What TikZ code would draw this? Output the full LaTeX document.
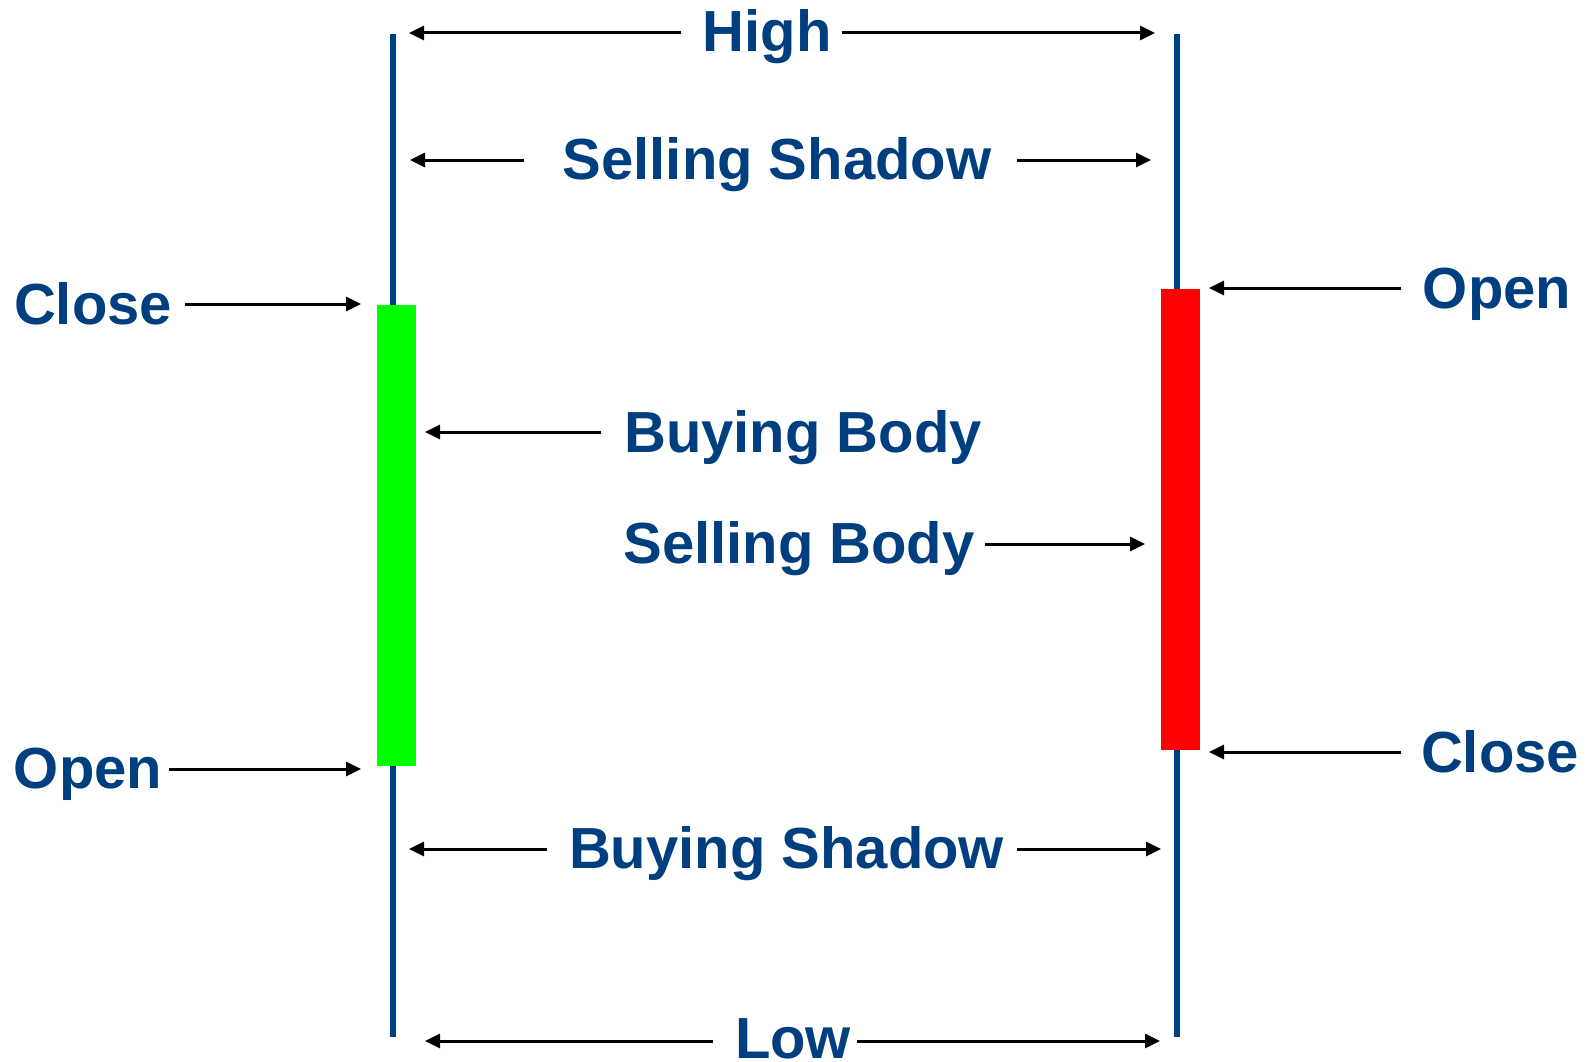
\documentclass[tikz,border=0pt]{standalone}
\usepackage{fontspec}
\setmainfont{Liberation Sans}
\usetikzlibrary{arrows.meta}
\definecolor{navy}{RGB}{0,63,127}
\definecolor{bull}{RGB}{0,255,0}
\definecolor{bear}{RGB}{255,0,0}
\tikzset{
  lbl/.style={text=navy, font=\bfseries\fontsize{58}{70}\selectfont, inner sep=0pt, anchor=base},
  arr/.style={draw=black, line width=3pt, -{Triangle[length=15pt,width=14pt]}},
  wick/.style={draw=navy, line width=5.5pt},
  body/.style={inner sep=0pt, draw=none, minimum width=39pt}
}
\begin{document}
\begin{tikzpicture}[x=1pt,y=-1pt]
\useasboundingbox (0,0) rectangle (1595,1062);
% wicks
\coordinate (lt) at (393,34);
\coordinate (lb) at (393,1037);
\coordinate (rt) at (1177,34);
\coordinate (rb) at (1177,1037);
\draw[wick] (lt) -- (lb);
\draw[wick] (rt) -- (rb);
% bodies
\node[body, fill=bull, minimum height=461pt] (green) at (396.5,535.5) {};
\node[body, fill=bear, minimum height=461pt] (red) at (1180.5,519.5) {};
% labels
\node[lbl] (high) at (767,52) {High};
\node[lbl] (sshadow) at (777,179) {Selling Shadow};
\node[lbl] (closeL) at (93,324) {Close};
\node[lbl] (openR) at (1497,308) {Open};
\node[lbl] (bbody) at (803,452) {Buying Body};
\node[lbl] (sbody) at (799,563) {Selling Body};
\node[lbl] (openL) at (88,788) {Open};
\node[lbl] (closeR) at (1500,772) {Close};
\node[lbl] (bshadow) at (786.5,868) {Buying Shadow};
\node[lbl] (low) at (793,1058) {Low};
% arrow end points
\coordinate (h1s) at (681,33);  \coordinate (h1e) at (409,33);
\coordinate (h2s) at (842,33);  \coordinate (h2e) at (1155,33);
\coordinate (s1s) at (524,160); \coordinate (s1e) at (410,160);
\coordinate (s2s) at (1017,160);\coordinate (s2e) at (1151,160);
\coordinate (cls) at (185,304); \coordinate (cle) at (361,304);
\coordinate (ors) at (1401,288);\coordinate (ore) at (1209,288);
\coordinate (bbs) at (601,432); \coordinate (bbe) at (425,432);
\coordinate (sbs) at (985,544); \coordinate (sbe) at (1145,544);
\coordinate (ols) at (169,769); \coordinate (ole) at (361,769);
\coordinate (crs) at (1401,752);\coordinate (cre) at (1209,752);
\coordinate (b1s) at (547,849); \coordinate (b1e) at (409,849);
\coordinate (b2s) at (1017,849);\coordinate (b2e) at (1161,849);
\coordinate (l1s) at (713,1041);\coordinate (l1e) at (425,1041);
\coordinate (l2s) at (857,1041);\coordinate (l2e) at (1160,1041);
% arrows
\draw[arr] (h1s) -- (h1e);
\draw[arr] (h2s) -- (h2e);
\draw[arr] (s1s) -- (s1e);
\draw[arr] (s2s) -- (s2e);
\draw[arr] (cls) -- (cle);
\draw[arr] (ors) -- (ore);
\draw[arr] (bbs) -- (bbe);
\draw[arr] (sbs) -- (sbe);
\draw[arr] (ols) -- (ole);
\draw[arr] (crs) -- (cre);
\draw[arr] (b1s) -- (b1e);
\draw[arr] (b2s) -- (b2e);
\draw[arr] (l1s) -- (l1e);
\draw[arr] (l2s) -- (l2e);
\end{tikzpicture}
\end{document}
